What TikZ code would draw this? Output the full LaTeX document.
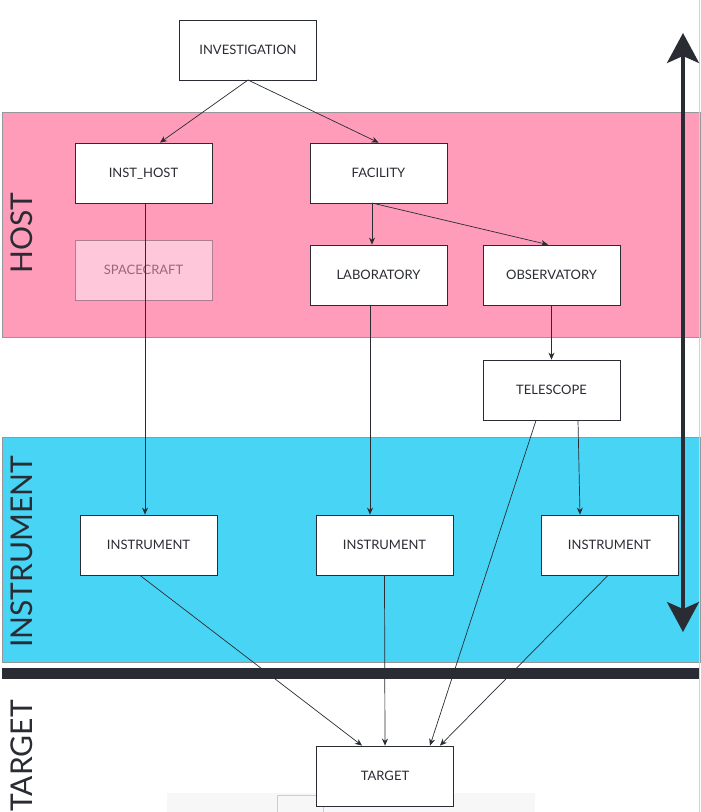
\documentclass[tikz,border=0pt]{standalone}
\usepackage{fontspec}
\setmainfont{Lato}
\usetikzlibrary{arrows.meta}
\definecolor{hostpink}{RGB}{255,156,186}
\definecolor{instblue}{RGB}{72,212,245}
\definecolor{darkline}{RGB}{42,44,52}
\definecolor{bandedge}{RGB}{150,150,155}
\definecolor{scfill}{RGB}{255,200,218}
\definecolor{scedge}{RGB}{175,125,145}
\definecolor{sctext}{RGB}{160,100,120}
\tikzset{
  box/.style={draw=darkline, fill=white, line width=0.8pt, minimum width=137pt, minimum height=60pt, inner sep=0pt, text height=9.4pt, text depth=0pt, font=\fontsize{13}{15}\selectfont, text=darkline},
  ghost/.style={box, draw=scedge, fill=scfill, text=sctext},
  conn/.style={draw=darkline, line width=0.7pt, -{Stealth[length=7pt,width=6pt]}},
  band/.style={draw=bandedge, line width=0.6pt},
  lanelabel/.style={rotate=90, font=\fontsize{30}{34}\selectfont, text=darkline, inner sep=0pt},
  bigarrow/.style={draw=darkline, line width=3.5pt, {Stealth[length=30pt,width=32pt,inset=7pt]}-{Stealth[length=30pt,width=32pt,inset=7pt]}}
}
\begin{document}
\begin{tikzpicture}[x=1pt,y=-1pt]
\useasboundingbox (0,0) rectangle (701,812);
\fill[white] (0,0) rectangle (701,812);
% bands
\path[band, fill=hostpink] (2,112) rectangle (700,337);
\path[band, fill=instblue] (2,437) rectangle (700,662);
\fill[darkline] (2,668) rectangle (700,679);
\draw[gray!35, line width=0.8pt] (699.5,0) -- (699.5,812);
% faint bottom strip
\fill[gray!6] (167,793) rectangle (535,812);
\draw[gray!40, line width=0.6pt] (277,812) -- (277,795) -- (323,795) -- (323,812);
% lane labels
\node[lanelabel, anchor=base] (lhost) at (32,233) {HOST};
\node[lanelabel, anchor=base] (linst) at (32,552) {INSTRUMENT};
\node[lanelabel, anchor=base east] (ltarget) at (32,700) {TARGET};
% nodes
\node[box] (inv) at (248,50) {INVESTIGATION};
\node[box] (ih) at (143.5,173) {INST\_HOST};
\node[box] (fac) at (378.5,173) {FACILITY};
\node[ghost] (sc) at (143.5,270) {SPACECRAFT};
\node[box] (lab) at (378.5,275) {LABORATORY};
\node[box] (obs) at (551.5,275) {OBSERVATORY};
\node[box] (tel) at (551.5,390) {TELESCOPE};
\node[box] (in1) at (148.5,545) {INSTRUMENT};
\node[box] (in2) at (384.5,545) {INSTRUMENT};
\node[box] (in3) at (609.5,545) {INSTRUMENT};
\node[box] (tgt) at (385,776) {TARGET};
% connectors
\coordinate (invb) at (248,80);
\coordinate (facb) at (372,203);
\draw[conn] (invb) -- (ih.north -| 160,0);
\draw[conn] (invb) -- (fac.north);
\draw[conn] (facb) -- (lab.north -| facb);
\draw[conn] (facb) -- (obs.north -| 548,0);
\draw[conn] (ih.south -| 145,0) -- (in1.north -| 145,0);
\draw[conn] (lab.south -| 370,0) -- (in2.north -| 370,0);
\draw[conn] (obs.south) -- (tel.north);
\draw[conn] (tel.south -| 578,0) -- (in3.north -| 580,0);
\draw[conn] (tel.south -| 536,0) -- (tgt.north -| 430,0);
\draw[conn] (in1.south -| 140,0) -- (tgt.north -| 362,0);
\draw[conn] (in2.south) -- (tgt.north);
\draw[conn] (in3.south -| 608,0) -- (tgt.north -| 440,0);
% big double arrow
\coordinate (ba1) at (683,33);
\coordinate (ba2) at (683,632);
\draw[bigarrow] (ba1) -- (ba2);
\end{tikzpicture}
\end{document}
